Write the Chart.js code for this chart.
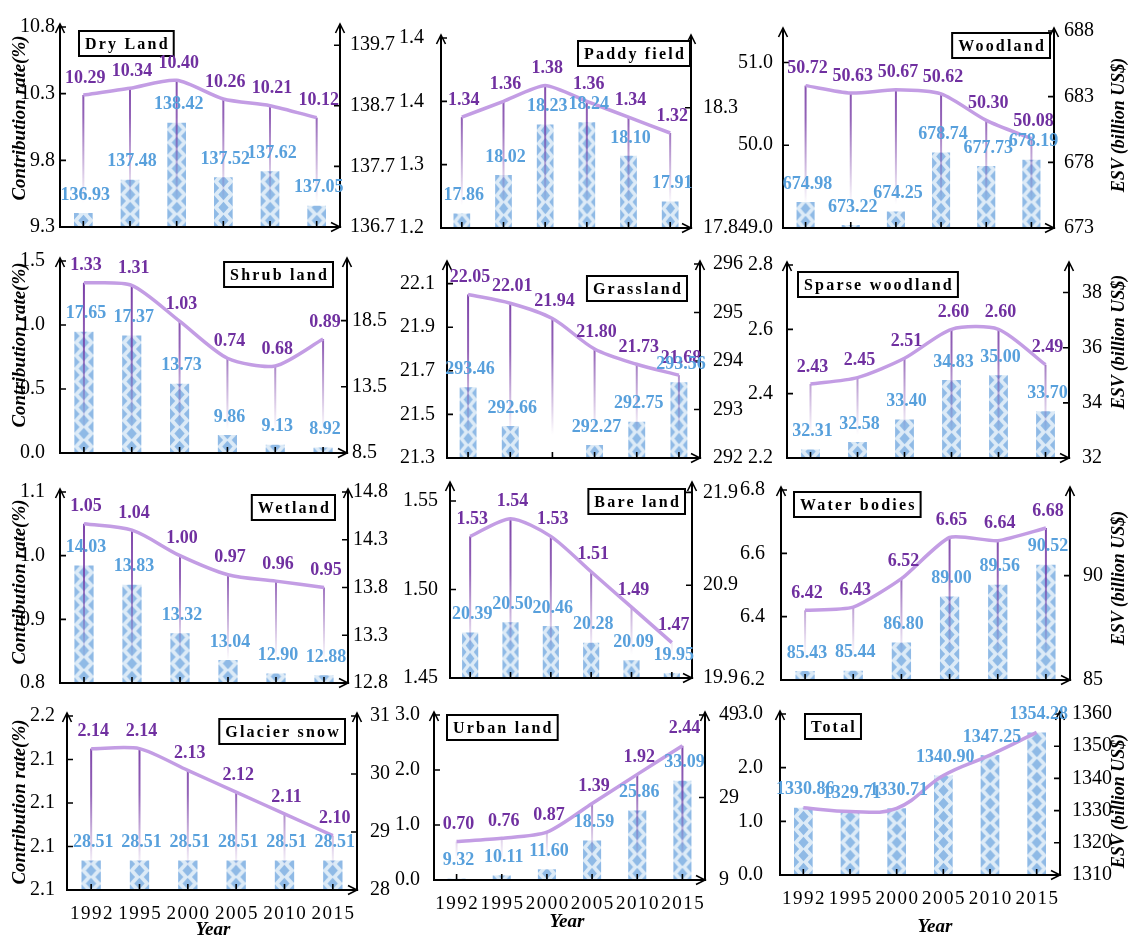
<!DOCTYPE html>
<html>
<head>
<meta charset="utf-8">
<script src="https://cdn.jsdelivr.net/npm/chart.js@4.4.1/dist/chart.umd.min.js"></script>
<style>
  html, body { margin: 0; padding: 0; background: #fff; }
  #page { position: relative; width: 1129px; height: 937px; overflow: hidden; background: #fff; }
  #page canvas { position: absolute; }
  .axis-title { position: absolute; white-space: nowrap; font: italic bold 19px 'Liberation Serif', 'Times New Roman', serif; color: #000; transform: translate(-50%, -50%) rotate(-90deg); }
  .year-title { position: absolute; white-space: nowrap; font: italic bold 19px 'Liberation Serif', 'Times New Roman', serif; color: #000; transform: translate(-50%, -50%); }
</style>
</head>
<body>
<div id="page"></div>
<script>
// ---- categories ----
const years = ['1992', '1995', '2000', '2005', '2010', '2015'];

// ---- contribution rate (%) and ESV (billion US$) per land type ----
const dryLandRate = [10.29, 10.34, 10.40, 10.26, 10.21, 10.12];
const dryLandEsv  = [136.93, 137.48, 138.42, 137.52, 137.62, 137.05];
const paddyRate   = [1.34, 1.36, 1.38, 1.36, 1.34, 1.32];
const paddyEsv    = [17.86, 18.02, 18.23, 18.24, 18.10, 17.91];
const woodRate    = [50.72, 50.63, 50.67, 50.62, 50.30, 50.08];
const woodEsv     = [674.98, 673.22, 674.25, 678.74, 677.73, 678.19];
const shrubRate   = [1.33, 1.31, 1.03, 0.74, 0.68, 0.89];
const shrubEsv    = [17.65, 17.37, 13.73, 9.86, 9.13, 8.92];
const grassRate   = [22.05, 22.01, 21.94, 21.80, 21.73, 21.68];
const grassEsv    = [293.46, 292.66, 291.98, 292.27, 292.75, 293.56];
const sparseRate  = [2.43, 2.45, 2.51, 2.60, 2.60, 2.49];
const sparseEsv   = [32.31, 32.58, 33.40, 34.83, 35.00, 33.70];
const wetRate     = [1.05, 1.04, 1.00, 0.97, 0.96, 0.95];
const wetEsv      = [14.03, 13.83, 13.32, 13.04, 12.90, 12.88];
const bareRate    = [1.53, 1.54, 1.53, 1.51, 1.49, 1.47];
const bareEsv     = [20.39, 20.50, 20.46, 20.28, 20.09, 19.95];
const waterRate   = [6.42, 6.43, 6.52, 6.65, 6.64, 6.68];
const waterEsv    = [85.43, 85.44, 86.80, 89.00, 89.56, 90.52];
const glacierRate = [2.14, 2.14, 2.13, 2.12, 2.11, 2.10];
const glacierEsv  = [28.51, 28.51, 28.51, 28.51, 28.51, 28.51];
const urbanRate   = [0.70, 0.76, 0.87, 1.39, 1.92, 2.44];
const urbanEsv    = [9.32, 10.11, 11.60, 18.59, 25.86, 33.09];
const totalEsv    = [1330.86, 1329.71, 1330.71, 1340.90, 1347.25, 1354.28];

// ---- tick values (left: contribution rate, right: ESV) ----
const dryLandRateTicks = [9.3, 9.8, 10.3, 10.8];
const dryLandEsvTicks  = [136.7, 137.7, 138.7, 139.7];
const paddyRateTicks   = [1.2, 1.28, 1.36, 1.44];
const paddyEsvTicks    = [17.8, 18.3];
const woodRateTicks    = [49, 50, 51];
const woodEsvTicks     = [673, 678, 683, 688];
const shrubRateTicks   = [0, 0.5, 1.0, 1.5];
const shrubEsvTicks    = [8.5, 13.5, 18.5];
const grassRateTicks   = [21.3, 21.5, 21.7, 21.9, 22.1];
const grassEsvTicks    = [292, 293, 294, 295, 296];
const sparseRateTicks  = [2.2, 2.4, 2.6, 2.8];
const sparseEsvTicks   = [32, 34, 36, 38];
const wetRateTicks     = [0.8, 0.9, 1.0, 1.1];
const wetEsvTicks      = [12.8, 13.3, 13.8, 14.3, 14.8];
const bareRateTicks    = [1.45, 1.50, 1.55];
const bareEsvTicks     = [19.9, 20.9, 21.9];
const waterRateTicks   = [6.2, 6.4, 6.6, 6.8];
const waterEsvTicks    = [85, 90];
const glacierRateTicks = [2.075, 2.095, 2.115, 2.135, 2.155];
const glacierEsvTicks  = [28, 29, 30, 31];
const urbanRateTicks   = [0, 1, 2, 3];
const urbanEsvTicks    = [9, 29, 49];
const totalRateTicks   = [0, 1, 2, 3];
const totalEsvTicks    = [1310, 1320, 1330, 1340, 1350, 1360];

const SERIF = "'Liberation Serif', 'Times New Roman', serif";
const PURPLE = '#7030A0';
const LAVENDER = '#C39DE4';
const LABEL_BLUE = '#58A0DC';
const BAR_LIGHT = '#DDEBF7';
const BAR_DARK = '#8FBAE6';

// Panels: data, axis ranges and plot frame [left, top, right, bottom] on the page
const panels = [
  { title: 'Dry Land', rate: dryLandRate, esv: dryLandEsv, rTicks: dryLandRateTicks, eTicks: dryLandEsvTicks,
    rRange: [9.3, 10.8], eRange: [136.7, 140.0], rDec: 1, eDec: 1,
    frame: [60, 19, 340, 227], side: 'left', dx: 19, dy: 4, padL: 5, padR: 10, tension: 0.25 },
  { title: 'Paddy field', rate: paddyRate, esv: paddyEsv, rTicks: paddyRateTicks, eTicks: paddyEsvTicks,
    rRange: [1.2, 1.44], eRange: [17.8, 18.59], rDec: 1, eDec: 1,
    frame: [441, 23, 691, 228], side: 'right', dx: 1, dy: 3, padL: 17, padR: 12, tension: 0.2 },
  { title: 'Woodland', rate: woodRate, esv: woodEsv, rTicks: woodRateTicks, eTicks: woodEsvTicks,
    rRange: [49, 51.38], eRange: [673, 688], rDec: 1, eDec: 0,
    frame: [783, 23, 1054, 228], side: 'right', dx: 4, dy: 2, padL: 10, padR: 10, tension: 0.25 },
  { title: 'Shrub land', rate: shrubRate, esv: shrubEsv, rTicks: shrubRateTicks, eTicks: shrubEsvTicks,
    rRange: [0, 1.5], eRange: [8.5, 23.0], rDec: 1, eDec: 1,
    frame: [60, 248, 347, 453], side: 'right', dx: 14, dy: 1, padL: 15, padR: 5, tension: 0.25 },
  { title: 'Grassland', rate: grassRate, esv: grassEsv, rTicks: grassRateTicks, eTicks: grassEsvTicks,
    rRange: [21.3, 22.19], eRange: [292, 296], rDec: 1, eDec: 0,
    frame: [447, 253, 700, 458], side: 'right', dx: 13, dy: 12, padL: 12, padR: 13, tension: 0.3 },
  { title: 'Sparse woodland', rate: sparseRate, esv: sparseEsv, rTicks: sparseRateTicks, eTicks: sparseEsvTicks,
    rRange: [2.2, 2.8], eRange: [32, 39], rDec: 1, eDec: 0,
    frame: [787, 253, 1069, 458], side: 'left', dx: 11, dy: 7, padL: 14, padR: 13, tension: 0.25 },
  { title: 'Wetland', rate: wetRate, esv: wetEsv, rTicks: wetRateTicks, eTicks: wetEsvTicks,
    rRange: [0.8, 1.1], eRange: [12.8, 14.8], rDec: 1, eDec: 1,
    frame: [60, 479, 348, 683], side: 'right', dx: 13, dy: 3, padL: 15, padR: 5, tension: 0.3 },
  { title: 'Bare land', rate: bareRate, esv: bareEsv, rTicks: bareRateTicks, eTicks: bareEsvTicks,
    rRange: [1.45, 1.559], eRange: [19.9, 21.98], rDec: 2, eDec: 1,
    frame: [450, 475, 692, 678], side: 'right', dx: 7, dy: 4, padL: 12, padR: 11, tension: 0.25 },
  { title: 'Water bodies', rate: waterRate, esv: waterEsv, rTicks: waterRateTicks, eTicks: waterEsvTicks,
    rRange: [6.2, 6.8], eRange: [85, 94.1], rDec: 1, eDec: 0,
    frame: [781, 476, 1070, 680], side: 'left', dx: 13, dy: 2, padL: 16, padR: 13, tension: 0.2 },
  { title: 'Glacier snow', rate: glacierRate, esv: glacierEsv, rTicks: glacierRateTicks, eTicks: glacierEsvTicks,
    rRange: [2.075, 2.155], eRange: [28, 31], rDec: 1, eDec: 0,
    frame: [67, 705, 357, 890], side: 'right', dx: 12, dy: 3, padL: 12, padR: 13, tension: 0.25, years: true },
  { title: 'Urban land', rate: urbanRate, esv: urbanEsv, rTicks: urbanRateTicks, eTicks: urbanEsvTicks,
    rRange: [0, 3], eRange: [9, 49], rDec: 1, eDec: 0,
    frame: [434, 703, 705, 880], side: 'left', dx: 13, dy: 0, padL: 14, padR: 14, tension: 0.25, years: true },
  { title: 'Total', rate: null, esv: totalEsv, rTicks: totalRateTicks, eTicks: totalEsvTicks,
    rRange: [0, 3], eRange: [1310, 1360], rDec: 1, eDec: 0,
    frame: [780, 699, 1060, 875], side: 'left', dx: 25, dy: 0, padL: 17, padR: 12, tension: 0.4, years: true }
];

// Diamond-lattice fill for one bar, anchored on the bar's left edge and the x axis
function barPattern(ctx, w, x0, y0) {
  const tw = Math.max(6, Math.round(w));
  const th = 13;
  const c = document.createElement('canvas');
  c.width = tw; c.height = th;
  const g = c.getContext('2d');
  g.fillStyle = BAR_LIGHT;
  g.fillRect(0, 0, tw, th);
  g.fillStyle = BAR_DARK;
  const hw = tw * 0.27, hh = th * 0.44;
  [[tw / 2, th / 2], [0, 0], [tw, 0], [0, th], [tw, th]].forEach(([cx, cy]) => {
    g.beginPath();
    g.moveTo(cx, cy - hh); g.lineTo(cx + hw, cy); g.lineTo(cx, cy + hh); g.lineTo(cx - hw, cy);
    g.closePath(); g.fill();
  });
  const p = ctx.createPattern(c, 'repeat');
  p.setTransform(new DOMMatrix([1, 0, 0, 1, x0, y0]));
  return p;
}

function barFill(c) {
  const ch = c.chart, sx = ch.scales && ch.scales.x, ca = ch.chartArea;
  if (c.type !== 'data' || !sx || !ca || !sx.width) return BAR_LIGHT;
  const w = (sx.width / years.length) * 0.4;
  const x = sx.getPixelForValue(c.dataIndex);
  return barPattern(ch.ctx, w, x - w / 2, ca.bottom);
}

// Axes with arrowheads, inward ticks, drop lines, title box and value labels
const decor = {
  id: 'decor',
  beforeDatasetDraw(chart, args, o) {
    if (!o.drops || args.meta.type !== 'line') return;
    const ctx = chart.ctx, ca = chart.chartArea;
    const grad = ctx.createLinearGradient(0, ca.top, 0, ca.bottom);
    grad.addColorStop(0, 'rgba(112,48,160,1)');
    grad.addColorStop(0.45, 'rgba(112,48,160,0.75)');
    grad.addColorStop(0.88, 'rgba(112,48,160,0)');
    ctx.save();
    ctx.strokeStyle = grad;
    ctx.lineWidth = 2;
    args.meta.data.forEach(pt => {
      ctx.beginPath();
      ctx.moveTo(pt.x, pt.y);
      ctx.lineTo(pt.x, ca.bottom);
      ctx.stroke();
    });
    ctx.restore();
  },
  afterDatasetsDraw(chart, args, o) {
    const ctx = chart.ctx, ca = chart.chartArea;
    const sx = chart.scales.x, yl = chart.scales.y, yr = chart.scales.y1;
    const L = ca.left, R = ca.right, T = ca.top, B = ca.bottom;
    ctx.save();

    // axis lines
    ctx.strokeStyle = '#000';
    ctx.lineWidth = 2;
    ctx.beginPath();
    ctx.moveTo(L, B + 1); ctx.lineTo(L, T - 3);
    ctx.moveTo(R, B + 1); ctx.lineTo(R, T - 3);
    ctx.moveTo(L, B); ctx.lineTo(R, B);
    ctx.stroke();

    // arrowheads
    ctx.lineWidth = 1.6;
    ctx.beginPath();
    [L, R].forEach(x => { ctx.moveTo(x - 4.5, T + 6); ctx.lineTo(x, T - 3); ctx.lineTo(x + 4.5, T + 6); });
    ctx.moveTo(R - 9, B - 4.5); ctx.lineTo(R, B); ctx.lineTo(R - 9, B + 4.5);
    ctx.stroke();

    // inward ticks
    ctx.lineWidth = 1.6;
    ctx.beginPath();
    o.rTicks.forEach(v => { if (v === yl.min) return; const y = yl.getPixelForValue(v); ctx.moveTo(L, y); ctx.lineTo(L + 6, y); });
    o.eTicks.forEach(v => { if (v === yr.min) return; const y = yr.getPixelForValue(v); ctx.moveTo(R, y); ctx.lineTo(R - 6, y); });
    chart.data.labels.forEach((_, i) => { const x = sx.getPixelForValue(i); ctx.moveTo(x, B); ctx.lineTo(x, B - 6); });
    ctx.stroke();

    // title box
    ctx.font = `bold 16px ${SERIF}`;
    ctx.letterSpacing = '2.2px';
    const tw = ctx.measureText(o.title).width;
    const bw = tw + 10, bh = 25;
    const bx = o.side === 'left' ? L + o.dx : R - o.dx - bw;
    const by = T + o.dy;
    ctx.fillStyle = '#fff';
    ctx.fillRect(bx, by, bw, bh);
    ctx.lineWidth = 2;
    ctx.strokeStyle = '#000';
    ctx.strokeRect(bx, by, bw, bh);
    ctx.fillStyle = '#000';
    ctx.textAlign = 'left';
    ctx.textBaseline = 'middle';
    ctx.fillText(o.title, bx + 6, by + bh / 2 + 1);
    ctx.letterSpacing = '0px';

    // value labels
    ctx.textAlign = 'center';
    ctx.font = `bold 18px ${SERIF}`;
    if (o.lineLabels) {
      const lm = chart.getDatasetMeta(1);
      const vals = chart.data.datasets[1].data;
      ctx.fillStyle = PURPLE;
      lm.data.forEach((pt, i) => ctx.fillText(vals[i].toFixed(2), pt.x + 2, pt.y - 17));
    }
    const bm = chart.getDatasetMeta(0);
    const bvals = chart.data.datasets[0].data;
    ctx.fillStyle = LABEL_BLUE;
    bm.data.forEach((bar, i) => {
      if (bvals[i] < yr.min) return;
      ctx.fillText(bvals[i].toFixed(2), bar.x + 2, bar.y - 18);
    });

    // year labels under the bottom row
    if (o.years) {
      ctx.font = `19px ${SERIF}`;
      ctx.letterSpacing = '1.5px';
      ctx.fillStyle = '#000';
      chart.data.labels.forEach((lab, i) => ctx.fillText(lab, sx.getPixelForValue(i) + 0.75, B + 24));
      ctx.letterSpacing = '0px';
    }
    ctx.restore();
  }
};

const page = document.getElementById('page');
const PAD = 14, AXW = 60, EXTRA = 40;

function yAxis(position, ticks, range, dec, pad) {
  return {
    position: position,
    min: range[0],
    max: range[1],
    afterBuildTicks: s => { s.ticks = ticks.map(v => ({ value: v })); },
    afterFit: s => { s.width = AXW; },
    grid: { display: false, drawTicks: false },
    border: { display: false },
    ticks: {
      autoSkip: false,
      padding: pad,
      color: '#000',
      font: { family: SERIF, size: 20 },
      callback: v => Number(v).toFixed(dec)
    }
  };
}

panels.forEach(p => {
  const [L, T, R, B] = p.frame;
  const cv = document.createElement('canvas');
  const w = R - L + 2 * (PAD + AXW);
  const h = B - T + 2 * PAD + EXTRA;
  cv.width = w; cv.height = h;
  cv.style.left = (L - PAD - AXW) + 'px';
  cv.style.top = (T - PAD) + 'px';
  cv.style.width = w + 'px';
  cv.style.height = h + 'px';
  page.appendChild(cv);

  const isTotal = p.rate === null;
  new Chart(cv, {
    type: 'bar',
    data: {
      labels: years,
      datasets: [
        { type: 'bar', data: p.esv, yAxisID: 'y1', order: 1, barPercentage: 0.4, categoryPercentage: 1,
          backgroundColor: barFill, borderWidth: 0 },
        { type: 'line', data: isTotal ? p.esv : p.rate, yAxisID: isTotal ? 'y1' : 'y', order: 0,
          borderColor: LAVENDER, borderWidth: 3.5, pointRadius: 0, tension: p.tension, fill: false }
      ]
    },
    options: {
      responsive: false,
      animation: false,
      events: [],
      layout: { padding: { left: PAD, right: PAD, top: PAD, bottom: PAD + EXTRA } },
      plugins: {
        legend: { display: false },
        tooltip: { enabled: false },
        decor: { title: p.title, side: p.side, dx: p.dx, dy: p.dy, rTicks: p.rTicks, eTicks: p.eTicks,
                 drops: !isTotal, lineLabels: !isTotal, years: !!p.years }
      },
      scales: {
        x: { display: false, offset: true },
        y: yAxis('left', p.rTicks, p.rRange, p.rDec, p.padL),
        y1: yAxis('right', p.eTicks, p.eRange, p.eDec, p.padR)
      }
    },
    plugins: [decor]
  });
});

// axis titles
[118, 345, 582, 802].forEach(y => {
  const d = document.createElement('div');
  d.className = 'axis-title';
  d.textContent = 'Contribution rate(%)';
  d.style.left = '19px'; d.style.top = y + 'px';
  page.appendChild(d);
});
[125, 342, 578, 801].forEach(y => {
  const d = document.createElement('div');
  d.className = 'axis-title';
  d.style.fontSize = '18px';
  d.textContent = 'ESV (billion US$)';
  d.style.left = '1118px'; d.style.top = y + 'px';
  page.appendChild(d);
});
[[213, 929], [567, 921], [935, 926]].forEach(([x, y]) => {
  const d = document.createElement('div');
  d.className = 'year-title';
  d.textContent = 'Year';
  d.style.left = x + 'px'; d.style.top = y + 'px';
  page.appendChild(d);
});
</script>
</body>
</html>
